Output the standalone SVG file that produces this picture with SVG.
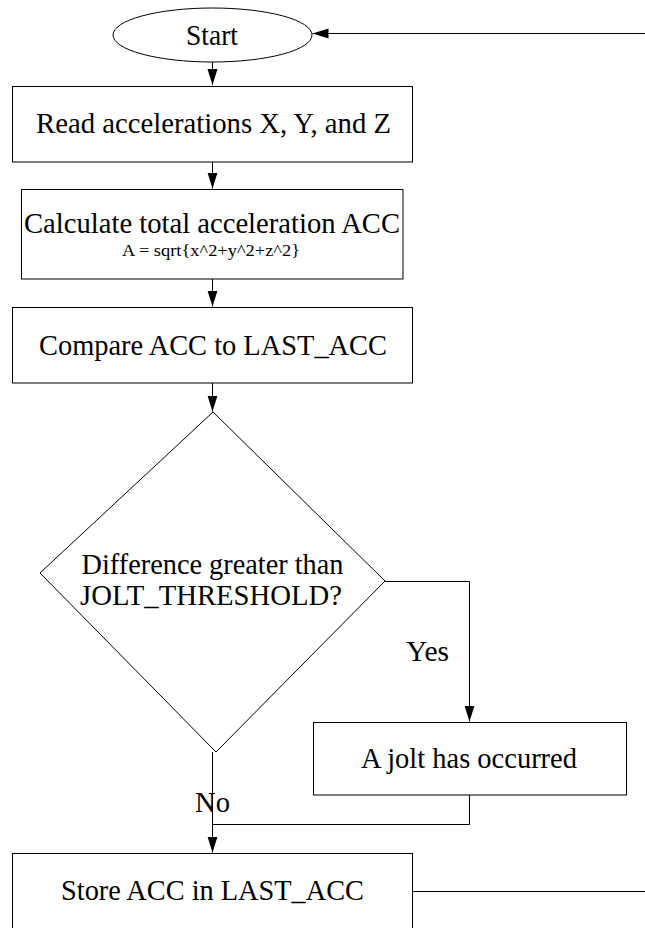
<svg xmlns="http://www.w3.org/2000/svg" width="645" height="928" viewBox="0 0 645 928">
  <style>
    .shape { fill: #ffffff; stroke: #000000; stroke-width: 1; }
    .conn { fill: none; stroke: #000000; stroke-width: 1; }
    .t { font-family: "Liberation Serif", "Times New Roman", serif; font-size: 30px; fill: #000000; text-anchor: middle; }
    .small { font-size: 17px; }
    .dec { font-size: 28.5px; }
    .lbl { font-family: "Liberation Serif", "Times New Roman", serif; font-size: 30px; fill: #000000; }
  </style>
  <defs>
    <marker id="arrow" markerUnits="userSpaceOnUse" markerWidth="18" markerHeight="12" refX="16" refY="5" orient="auto">
      <path d="M0,0 L16,5 L0,10 Z" fill="#000000"/>
    </marker>
  </defs>
  <rect width="645" height="928" fill="#ffffff"/>

  <g id="connectors">
    <path class="conn" d="M212.5,62 V85" marker-end="url(#arrow)"/>
    <path class="conn" d="M212.5,162 V188.5" marker-end="url(#arrow)"/>
    <path class="conn" d="M212.5,279 V306.5" marker-end="url(#arrow)"/>
    <path class="conn" d="M212.5,383 V411.5" marker-end="url(#arrow)"/>
    <path class="conn" d="M385,581.5 H469.5 V721.5" marker-end="url(#arrow)"/>
    <path class="conn" d="M212.5,752 V852.5" marker-end="url(#arrow)"/>
    <path class="conn" d="M469.5,795 V824.5 H212.5"/>
    <path class="conn" d="M412,891.5 H660 V33.5 H312.5" marker-end="url(#arrow)"/>
  </g>

  <g id="start">
    <ellipse class="shape" cx="212.5" cy="35" rx="99.5" ry="27"/>
    <text class="t" x="212" y="45" textLength="52" lengthAdjust="spacingAndGlyphs">Start</text>
  </g>

  <g id="read">
    <rect class="shape" x="12.5" y="86.5" width="400" height="75.5"/>
    <text class="t" x="213.5" y="133" textLength="355" lengthAdjust="spacingAndGlyphs">Read accelerations X, Y, and Z</text>
  </g>

  <g id="calculate">
    <rect class="shape" x="21.5" y="189.5" width="381.5" height="89.5"/>
    <text class="t" x="212" y="233" textLength="376" lengthAdjust="spacingAndGlyphs">Calculate total acceleration ACC</text>
    <text class="t small" x="211" y="256" textLength="178" lengthAdjust="spacingAndGlyphs">A = sqrt{x^2+y^2+z^2}</text>
  </g>

  <g id="compare">
    <rect class="shape" x="12.5" y="307.5" width="400" height="75.5"/>
    <text class="t" x="213" y="355" textLength="348" lengthAdjust="spacingAndGlyphs">Compare ACC to LAST_ACC</text>
  </g>

  <g id="decision">
    <polygon class="shape" points="213,412 385,581 216,752 40,573"/>
    <text class="t dec" x="212.5" y="574" textLength="262" lengthAdjust="spacingAndGlyphs">Difference greater than</text>
    <text class="t dec" x="211" y="605" textLength="262" lengthAdjust="spacingAndGlyphs">JOLT_THRESHOLD?</text>
  </g>

  <g id="jolt">
    <rect class="shape" x="313.5" y="722.5" width="313" height="72.5"/>
    <text class="t" x="469" y="768" textLength="216" lengthAdjust="spacingAndGlyphs">A jolt has occurred</text>
  </g>

  <g id="store">
    <rect class="shape" x="12.5" y="853.5" width="400" height="90"/>
    <text class="t" x="212.5" y="900" textLength="303" lengthAdjust="spacingAndGlyphs">Store ACC in LAST_ACC</text>
  </g>

  <g id="labels">
    <text class="lbl" x="406" y="661" textLength="43" lengthAdjust="spacingAndGlyphs">Yes</text>
    <text class="lbl" x="195" y="812" textLength="35" lengthAdjust="spacingAndGlyphs">No</text>
  </g>
</svg>
